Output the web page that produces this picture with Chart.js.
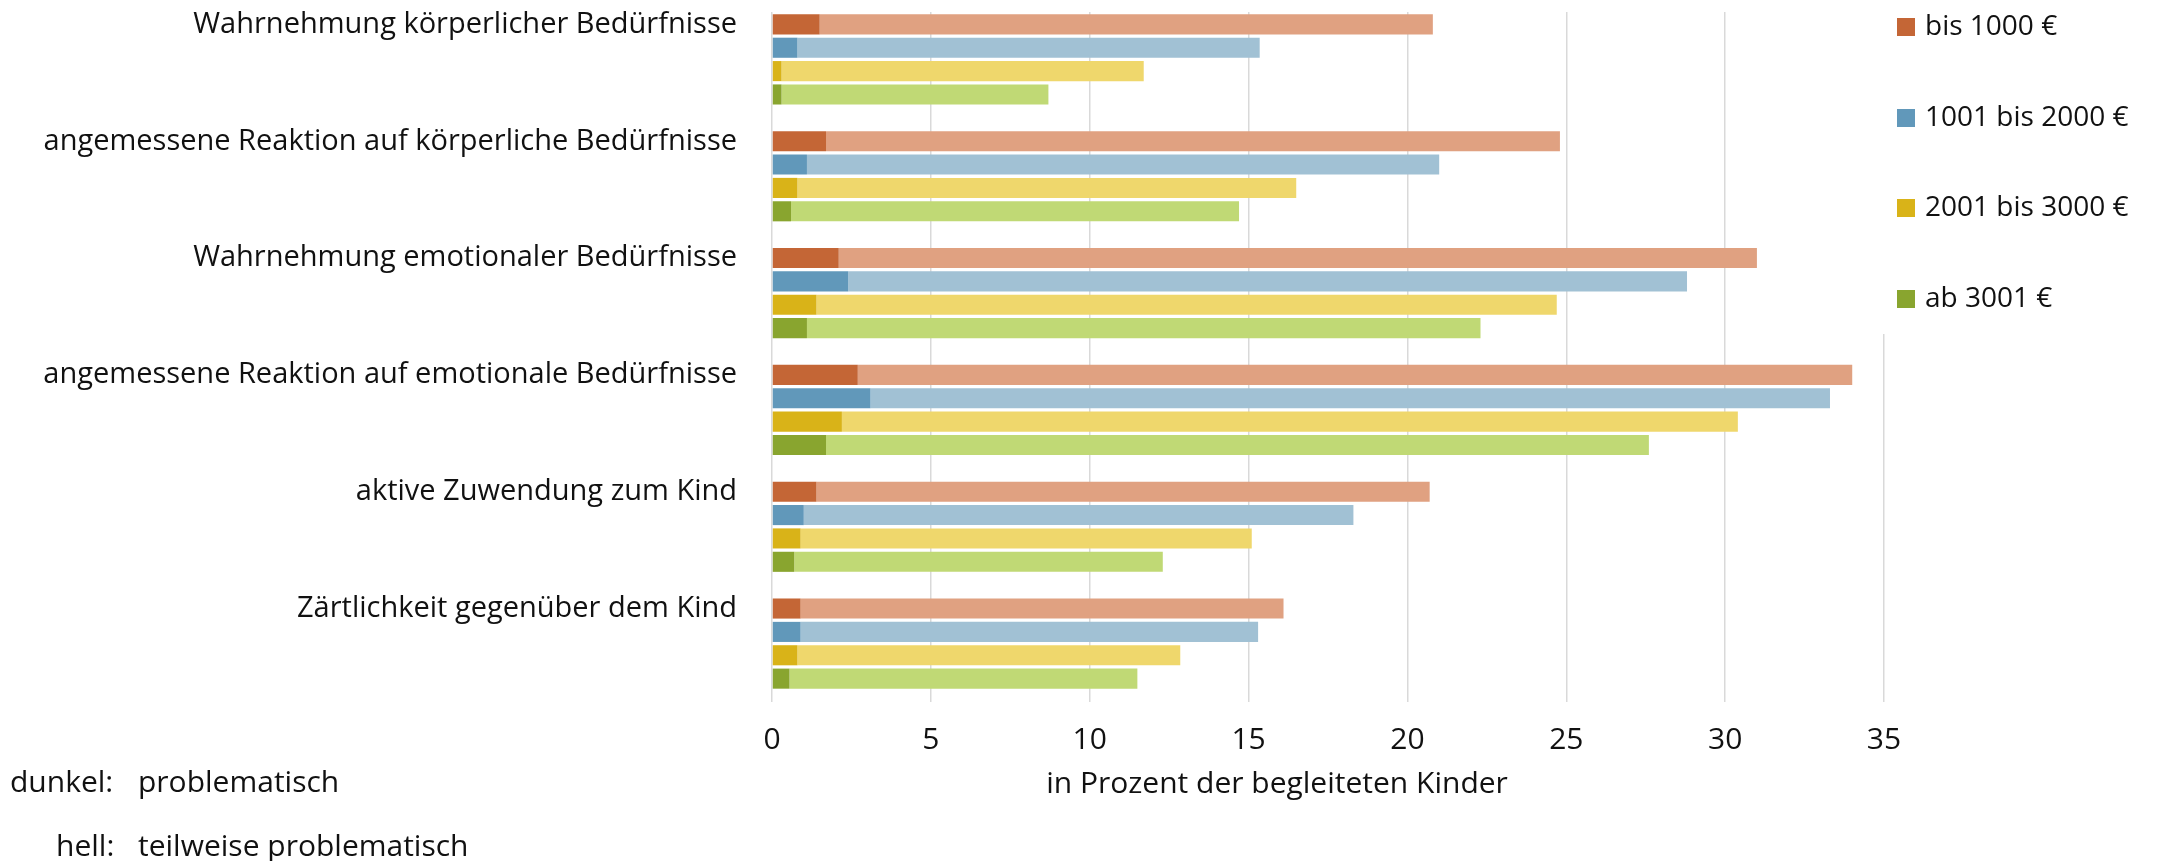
<!DOCTYPE html>
<html lang="de">
<head>
<meta charset="utf-8">
<title>Feinfühligkeit nach Haushaltseinkommen</title>
<script src="https://cdn.jsdelivr.net/npm/chart.js@4.4.1/dist/chart.umd.min.js"></script>
<style>
  html, body { margin: 0; padding: 0; background: #fff; }
  canvas { display: block; }
</style>
</head>
<body>
<canvas id="chart" width="2161" height="861"></canvas>
<script>
// Kategorien (von oben nach unten)
const kategorien = [
  'Wahrnehmung körperlicher Bedürfnisse',
  'angemessene Reaktion auf körperliche Bedürfnisse',
  'Wahrnehmung emotionaler Bedürfnisse',
  'angemessene Reaktion auf emotionale Bedürfnisse',
  'aktive Zuwendung zum Kind',
  'Zärtlichkeit gegenüber dem Kind'
];

// Einkommensgruppen
const einkommen = ['bis 1000 €', '1001 bis 2000 €', '2001 bis 3000 €', 'ab 3001 €'];

// dunkel: problematisch (in %)
const problematisch1000 = [1.5, 1.7, 2.1, 2.7, 1.4, 0.9];
const problematisch2000 = [0.8, 1.1, 2.4, 3.1, 1.0, 0.9];
const problematisch3000 = [0.3, 0.8, 1.4, 2.2, 0.9, 0.8];
const problematisch3001 = [0.3, 0.6, 1.1, 1.7, 0.7, 0.55];

// hell: teilweise problematisch (in %)
const teilweise1000 = [19.3, 23.1, 28.9, 31.3, 19.3, 15.2];
const teilweise2000 = [14.55, 19.9, 26.4, 30.2, 17.3, 14.4];
const teilweise3000 = [11.4, 15.7, 23.3, 28.2, 14.2, 12.05];
const teilweise3001 = [8.4, 14.1, 21.2, 25.9, 11.6, 10.95];

// Achsenbeschriftung
const achsenWerte = [0, 5, 10, 15, 20, 25, 30, 35];

const farbeDunkel = ['#c46636', '#6198ba', '#d9b318', '#89a52f'];
const farbeHell = ['#e0a181', '#a1c1d4', '#efd76c', '#c0d975'];

const problematisch = [problematisch1000, problematisch2000, problematisch3000, problematisch3001];
const teilweise = [teilweise1000, teilweise2000, teilweise3000, teilweise3001];

const schrift = "'Open Sans', 'Noto Sans', sans-serif";
const textFarbe = '#111';

// je Einkommensgruppe ein Stapel: dunkler Teil unten, heller Teil darauf
const datasets = [];
einkommen.forEach((name, i) => {
  datasets.push({
    label: name,
    data: problematisch[i],
    backgroundColor: farbeDunkel[i],
    stack: 'g' + i,
    barPercentage: 0.86,
    categoryPercentage: 0.8
  });
  datasets.push({
    label: name + ' (teilweise)',
    data: teilweise[i],
    backgroundColor: farbeHell[i],
    stack: 'g' + i,
    barPercentage: 0.86,
    categoryPercentage: 0.8
  });
});

// Legende, Achsentitel und Erläuterung hell/dunkel
const beschriftung = {
  id: 'beschriftung',
  beforeDatasetsDraw(chart) {
    const ctx = chart.ctx;
    ctx.save();
    ctx.fillStyle = '#fff';
    ctx.fillRect(chart.chartArea.left - 3, 0, chart.chartArea.width + 6, 12);
    ctx.restore();
  },
  afterDraw(chart) {
    const ctx = chart.ctx;
    ctx.save();
    // Legendenfläche
    ctx.fillStyle = '#fff';
    ctx.fillRect(1880, 0, 281, 334);
    ctx.font = '28px ' + schrift;
    ctx.textBaseline = 'middle';
    ctx.textAlign = 'left';
    const legendeY = [27, 118, 208, 299];
    einkommen.forEach((name, i) => {
      ctx.fillStyle = farbeDunkel[i];
      ctx.fillRect(1897, legendeY[i] - 9, 18, 18);
      ctx.fillStyle = textFarbe;
      ctx.fillText(name, 1925, legendeY[i]);
    });
    ctx.font = '30px ' + schrift;
    // Achsentitel
    ctx.textAlign = 'center';
    ctx.fillText('in Prozent der begleiteten Kinder', 1277, 784);
    // Erläuterung
    ctx.textAlign = 'left';
    ctx.fillText('dunkel:', 10, 783);
    ctx.fillText('problematisch', 138, 783);
    ctx.fillText('hell:', 56, 847);
    ctx.fillText('teilweise problematisch', 138, 847);
    ctx.restore();
  }
};

new Chart(document.getElementById('chart'), {
  type: 'bar',
  data: { labels: kategorien, datasets: datasets },
  options: {
    indexAxis: 'y',
    responsive: false,
    animation: false,
    layout: { padding: { top: 1, right: 277, bottom: 0, left: 0 } },
    plugins: { legend: { display: false }, tooltip: { enabled: false } },
    scales: {
      x: {
        stacked: true,
        min: 0,
        max: 35,
        afterBuildTicks: axis => { axis.ticks = achsenWerte.map(v => ({ value: v })); },
        afterFit: axis => { axis.height = 159; },
        grid: { color: '#d9d9d9', lineWidth: 1.5, drawTicks: false },
        border: { display: false },
        ticks: { font: { family: schrift, size: 30 }, color: textFarbe, padding: 20, maxRotation: 0 }
      },
      y: {
        afterFit: axis => {
          axis.width = 772;
          // Abstand zur Achse soll die Zeichenfläche nicht verkleinern
          axis.paddingTop = 0;
          axis.paddingBottom = 0;
        },
        grid: { display: false },
        border: { display: false },
        ticks: { font: { family: schrift, size: 29 }, color: textFarbe, padding: 27, labelOffset: -35, autoSkip: false }
      }
    }
  },
  plugins: [beschriftung]
});
</script>
</body>
</html>
